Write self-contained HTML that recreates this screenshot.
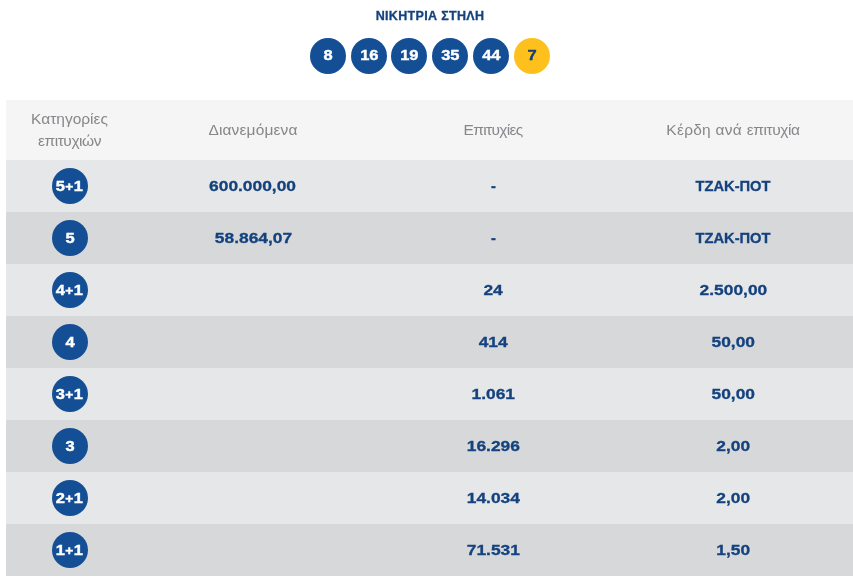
<!DOCTYPE html>
<html lang="el">
<head>
<meta charset="utf-8">
<title>ΝΙΚΗΤΡΙΑ ΣΤΗΛΗ</title>
<style>
html,body{margin:0;padding:0;background:#fff;}
body{width:853px;height:579px;overflow:hidden;position:relative;font-family:"Liberation Sans",sans-serif;}
.title{position:absolute;left:0;top:8px;width:860px;text-align:center;font-weight:bold;font-size:12.5px;line-height:16px;color:#14427e;letter-spacing:0.33px;-webkit-text-stroke:0.3px #14427e;}
.balls{position:absolute;left:310px;top:38px;height:36px;white-space:nowrap;}
.ball{position:absolute;top:0;width:36px;height:36px;border-radius:50%;background:#144f96;color:#fff;font-weight:bold;font-size:15px;line-height:36px;text-align:center;-webkit-text-stroke:0.4px currentColor;}
.ball.y{background:#fdc01c;color:#143d7a;}
.ball i,.c i{font-style:normal;display:inline-block;transform:scaleX(1.1);position:relative;}
.c i{top:-0.5px;left:0.5px;}
.ball i{top:-0.6px;}
.c i.p{left:-0.2px;}
table{position:absolute;left:6px;top:100px;width:847px;border-collapse:collapse;table-layout:fixed;}
th{height:60px;padding:0;background:#f5f5f5;color:#85878a;font-weight:normal;font-size:15.5px;letter-spacing:0.15px;line-height:22px;text-align:center;vertical-align:middle;}
td{height:52px;padding:0;text-align:center;vertical-align:middle;color:#14427e;font-weight:bold;font-size:14.6px;-webkit-text-stroke:0.3px #14427e;}
td b{display:inline-block;transform:scaleX(1.19);}
td.t{font-size:14.7px;letter-spacing:0;}
tr.a td{background:#e6e7e8;}
tr.b td{background:#d7d8d9;}
.c{display:inline-block;width:36px;height:36px;border-radius:50%;background:#144f96;color:#fff;font-weight:bold;font-size:15px;line-height:36px;text-align:center;vertical-align:middle;-webkit-text-stroke:0.4px #fff;}
.c s{text-decoration:none;font-size:12.5px;position:relative;top:0.9px;margin:0 0.3px;}
</style>
</head>
<body>
<div class="title">ΝΙΚΗΤΡΙΑ ΣΤΗΛΗ</div>
<div class="balls">
<span class="ball" style="left:0"><i>8</i></span>
<span class="ball" style="left:40.9px"><i>16</i></span>
<span class="ball" style="left:81.4px"><i>19</i></span>
<span class="ball" style="left:122.2px"><i>35</i></span>
<span class="ball" style="left:163px"><i>44</i></span>
<span class="ball y" style="left:204px"><i>7</i></span>
</div>
<table>
<colgroup><col style="width:127px"><col style="width:240px"><col style="width:240px"><col style="width:240px"></colgroup>
<tr><th><span style="letter-spacing:0">Κατηγορίες</span><br><span style="letter-spacing:-0.44px">επιτυχιών</span></th><th><span>Διανεμόμενα</span></th><th><span style="letter-spacing:-0.67px">Επιτυχίες</span></th><th><span style="letter-spacing:0.27px">Κέρδη ανά </span><span style="letter-spacing:-0.4px">επιτυχία</span></th></tr>
<tr class="a"><td><span class="c"><i class="p">5<s>+</s>1</i></span></td><td><b>600.000,00</b></td><td style="padding-left:1px">-</td><td class="t">ΤΖΑΚ-ΠΟΤ</td></tr>
<tr class="b"><td><span class="c"><i>5</i></span></td><td><b>58.864,07</b></td><td style="padding-left:1px">-</td><td class="t">ΤΖΑΚ-ΠΟΤ</td></tr>
<tr class="a"><td><span class="c"><i class="p">4<s>+</s>1</i></span></td><td></td><td><b>24</b></td><td><b>2.500,00</b></td></tr>
<tr class="b"><td><span class="c"><i>4</i></span></td><td></td><td><b>414</b></td><td><b>50,00</b></td></tr>
<tr class="a"><td><span class="c"><i class="p">3<s>+</s>1</i></span></td><td></td><td><b>1.061</b></td><td><b>50,00</b></td></tr>
<tr class="b"><td><span class="c"><i>3</i></span></td><td></td><td><b>16.296</b></td><td><b>2,00</b></td></tr>
<tr class="a"><td><span class="c"><i class="p">2<s>+</s>1</i></span></td><td></td><td><b>14.034</b></td><td><b>2,00</b></td></tr>
<tr class="b"><td><span class="c"><i class="p">1<s>+</s>1</i></span></td><td></td><td><b>71.531</b></td><td><b>1,50</b></td></tr>
</table>
</body>
</html>
